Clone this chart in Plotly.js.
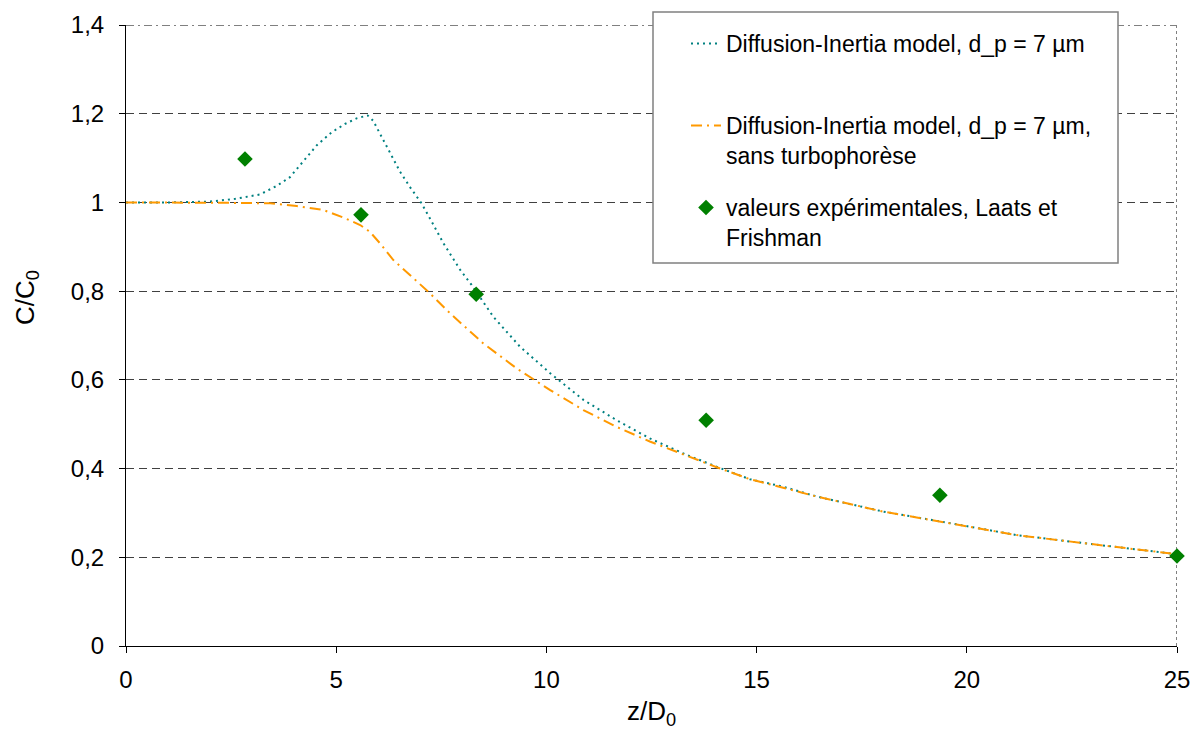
<!DOCTYPE html>
<html>
<head>
<meta charset="utf-8">
<script src="https://cdn.plot.ly/plotly-3.0.1.min.js"></script>
<style>html,body{margin:0;padding:0;background:#fff;}#chart{width:1192px;height:738px;}</style>
</head>
<body>
<div id="chart"></div>
<script>
// Diffusion-Inertia model, d_p = 7 µm
var xModel = [0, 1, 2, 2.59, 3.19, 3.58, 3.90, 4.22, 4.54, 4.89, 5.21, 5.50, 5.75, 5.88, 6.20, 6.52, 6.76, 7.03, 7.23, 7.55, 7.95, 8.22, 8.74, 9.37, 10.09, 10.88, 11.67, 12.46, 13.26, 14.05, 14.84, 15.64, 16.43, 18.01, 19.60, 21.19, 22.77, 25];
var yModel = [1, 1, 1.002, 1.008, 1.018, 1.037, 1.057, 1.092, 1.129, 1.158, 1.177, 1.190, 1.196, 1.184, 1.126, 1.069, 1.034, 0.998, 0.964, 0.908, 0.848, 0.814, 0.742, 0.675, 0.615, 0.555, 0.509, 0.468, 0.434, 0.404, 0.376, 0.359, 0.337, 0.303, 0.277, 0.250, 0.232, 0.207];

// Diffusion-Inertia model, d_p = 7 µm, sans turbophorèse
var xNoTurbo = [0, 1, 2, 2.47, 3.43, 4.06, 4.69, 5.17, 5.57, 5.80, 6.04, 6.36, 6.76, 7.23, 7.71, 8.50, 9.29, 10.09, 10.88, 11.67, 12.46, 13.26, 14.05, 14.84, 16.43, 18.01, 19.60, 21.19, 22.77, 25];
var yNoTurbo = [1, 1, 1, 0.999, 0.998, 0.992, 0.983, 0.966, 0.949, 0.934, 0.908, 0.870, 0.836, 0.795, 0.750, 0.682, 0.626, 0.577, 0.532, 0.494, 0.461, 0.431, 0.403, 0.376, 0.337, 0.303, 0.277, 0.250, 0.232, 0.207];

// valeurs expérimentales, Laats et Frishman
var xExp = [2.83, 5.59, 8.33, 13.8, 19.36, 25];
var yExp = [1.098, 0.972, 0.793, 0.509, 0.340, 0.203];

var names = [
  'Diffusion-Inertia model, d_p = 7 µm',
  'Diffusion-Inertia model, d_p = 7 µm,<br>sans turbophorèse',
  'valeurs expérimentales, Laats et<br>Frishman'
];

var FONT = 'Arial, "Liberation Sans", sans-serif';
var L = 126, R = 1177, T = 25, B = 646;
function px2x(p){ return (p - L) / (R - L); }
function px2y(p){ return (B - p) / (B - T); }

var traces = [
  {x: xModel, y: yModel, mode: 'lines', name: names[0], legend: 'legend',
   line: {color: '#008080', width: 2, dash: '2px,4px'}},
  {x: xNoTurbo, y: yNoTurbo, mode: 'lines', name: names[1], legend: 'legend2',
   line: {color: '#FF9900', width: 2, dash: '11px,5px,2px,5px'}},
  {x: xExp, y: yExp, mode: 'markers', name: names[2], legend: 'legend3', cliponaxis: false,
   marker: {symbol: 'diamond', color: '#008000', size: 12}}
];

function leg(yTop){
  return {x: px2x(686), y: px2y(yTop), xanchor: 'left', yanchor: 'top',
    bgcolor: 'rgba(0,0,0,0)', borderwidth: 0, valign: 'top',
    font: {family: FONT, size: 23, color: '#000'}, itemwidth: 30};
}

var layout = {
  width: 1192, height: 738,
  margin: {l: L, r: 1192 - R, t: T, b: 738 - B},
  paper_bgcolor: '#fff', plot_bgcolor: '#fff',
  separators: ', ',
  font: {family: FONT, size: 23, color: '#000'},
  showlegend: true,
  legend: leg(22),
  legend2: leg(104),
  legend3: leg(186),
  xaxis: {
    range: [0, 25], dtick: 5, tick0: 0,
    showline: true, linecolor: '#000', linewidth: 1,
    ticks: 'outside', ticklen: 6, tickcolor: '#000',
    showgrid: false, zeroline: false,
    ticklabelstandoff: 6,
    tickfont: {family: FONT, size: 24},
    title: {text: 'z/D<sub>0</sub>', font: {family: FONT, size: 26}, standoff: 10},
    automargin: false
  },
  yaxis: {
    range: [0, 1.4], dtick: 0.2, tick0: 0,
    showline: true, linecolor: '#000', linewidth: 1,
    ticks: 'outside', ticklen: 6, tickcolor: '#000',
    showgrid: true, gridcolor: '#404040', gridwidth: 1, griddash: '8px,5px',
    zeroline: false,
    ticklabelstandoff: 10,
    tickfont: {family: FONT, size: 24},
    automargin: false
  },
  shapes: [
    {type: 'line', xref: 'x', yref: 'y', x0: 0, x1: 25, y0: 1.4, y1: 1.4,
     line: {color: '#808080', width: 2, dash: '8px,4px,2px,4px'}, layer: 'below'},
    {type: 'line', xref: 'x', yref: 'y', x0: 25, x1: 25, y0: 0, y1: 1.4,
     line: {color: '#808080', width: 2, dash: '3px,3px'}, layer: 'below'},
    {type: 'rect', xref: 'paper', yref: 'paper',
     x0: px2x(653), x1: px2x(1118), y0: px2y(263), y1: px2y(12),
     fillcolor: '#fff', line: {color: '#808080', width: 1.5}, layer: 'above'}
  ],
  annotations: [
    {text: 'C/C<sub>0</sub>', textangle: -90, xref: 'paper', yref: 'paper',
     x: px2x(27), y: px2y(298), xanchor: 'center', yanchor: 'middle', showarrow: false,
     font: {family: FONT, size: 26, color: '#000'}}
  ]
};

Plotly.newPlot('chart', traces, layout, {displayModeBar: false, staticPlot: true});
</script>
</body>
</html>
